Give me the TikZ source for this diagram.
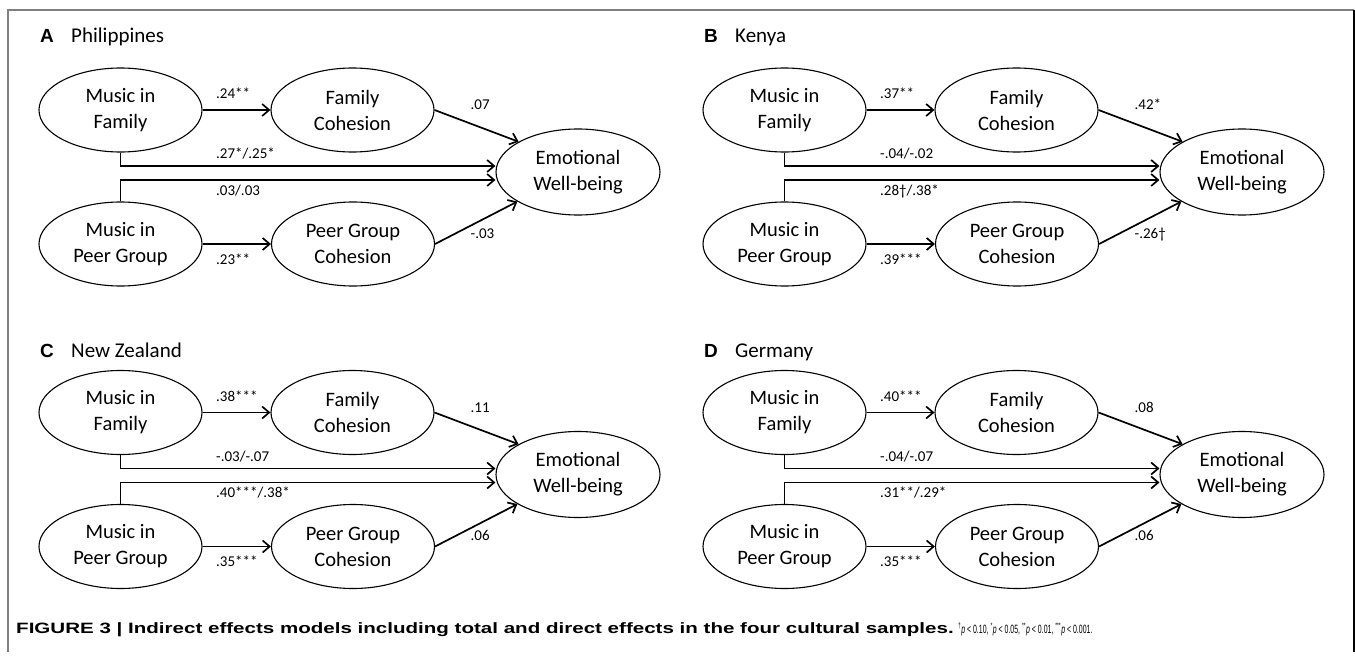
\documentclass[tikz,border=0pt]{standalone}
\usepackage{fontspec}
\setmainfont{Carlito}
\newfontfamily\headfont{Liberation Sans}
\newfontfamily\capfont[FakeStretch=1.37]{Liberation Sans}
\newfontfamily\pvalfont[FakeStretch=0.58]{Liberation Sans}
\usetikzlibrary{shapes.geometric,arrows.meta}

\tikzset{
  latent/.style={ellipse, draw, line width=1.1pt, minimum width=163pt,
    minimum height=84pt, inner sep=0pt, align=center,
    font=\fontsize{20.5}{26}\selectfont},
  eff/.style={->, line width=1.7pt},
  coef/.style={anchor=base west, inner sep=0pt, font=\fontsize{15}{18}\selectfont},
  >={Straight Barb[length=7pt,width=12pt]}
}

\begin{document}
\begin{tikzpicture}[x=1pt, y=-1pt]
  \fill[white] (0,0) rectangle (1355,658);
  \useasboundingbox (0,0) rectangle (1355,658);
  % Frame
  \draw[gray, line width=1.5pt] (8,652) -- (8,10) -- (1354,10);
  \draw[line width=1.5pt] (1354,10) -- (1354,652);
  % Four samples
  \foreach \dx/\dy/\ty/\pn/\ctry/\ea/\eb/\ec/\ed/\ee/\ef in {
      0/0/42.7/A/Philippines/{.24**}/{.07}/{.27*/.25*}/{.03/.03}/{-.03}/{.23**},
      664/0/42.7/B/Kenya/{.37**}/{.42*}/{-.04/-.02}/{.28†/.38*}/{-.26†}/{.39***},
      0/302.5/54.5/C/New Zealand/{.38***}/{.11}/{-.03/-.07}/{.40***/.38*}/{.06}/{.35***},
      664/302.5/54.5/D/Germany/{.40***}/{.08}/{-.04/-.07}/{.31**/.29*}/{.06}/{.35***}}{
    \begin{scope}[shift={(\dx,\dy)}]
      % Title
      \node[anchor=base west, inner sep=0pt, font=\headfont\bfseries\fontsize{19}{21}\selectfont]
        (let\pn) at (40,\ty) {\pn};
      \node[anchor=base west, inner sep=0pt, font=\fontsize{21}{24}\selectfont]
        (name\pn) at (71,\ty) {\ctry};
      % Variables
      \node[latent] (mf\pn) at (120.5,110) {Music in\\Family};
      \node[latent] (fc\pn) at (352.5,110) {Family\\Cohesion};
      \node[latent] (mp\pn) at (120.5,244) {Music in\\Peer Group};
      \node[latent] (pc\pn) at (353,244) {Peer Group\\Cohesion};
      \node[latent, minimum width=164pt, minimum height=86pt] (ew\pn) at (578,172) {Emotional\\Well-being};
      % Paths
      \draw[eff] (mf\pn) -- (fc\pn);
      \draw[eff] (fc\pn.east) -- (ew\pn.153);
      \draw[eff] (mf\pn.south) |- ([yshift=6pt]ew\pn.west);
      \draw[eff] (mp\pn.north) |- ([yshift=-8pt]ew\pn.west);
      \draw[eff] (mp\pn) -- (pc\pn);
      \draw[eff] (pc\pn.east) -- (ew\pn.206);
      % Coefficients
      \node[coef] (ca\pn) at (216,99) {\ea};
      \node[coef] (cb\pn) at (470.5,110) {\eb};
      \node[coef] (cc\pn) at (216,159) {\ec};
      \node[coef] (cd\pn) at (216,195) {\ed};
      \node[coef] (ce\pn) at (470.5,238) {\ee};
      \node[coef] (cf\pn) at (216,264) {\ef};
    \end{scope}
  }
  % Caption
  \node[anchor=base west, inner sep=0pt, font=\fontsize{15}{18}\selectfont] (cap) at (16,633)
    {{\capfont\bfseries FIGURE 3 | Indirect effects models including total and direct effects in the four cultural samples.}
     {\pvalfont\fontsize{12}{15}\selectfont \textsuperscript{†}\textit{p} < 0.10, \textsuperscript{*}\textit{p} < 0.05,
     \textsuperscript{**}\textit{p} < 0.01, \textsuperscript{***}\textit{p} < 0.001.}};
\end{tikzpicture}
\end{document}
